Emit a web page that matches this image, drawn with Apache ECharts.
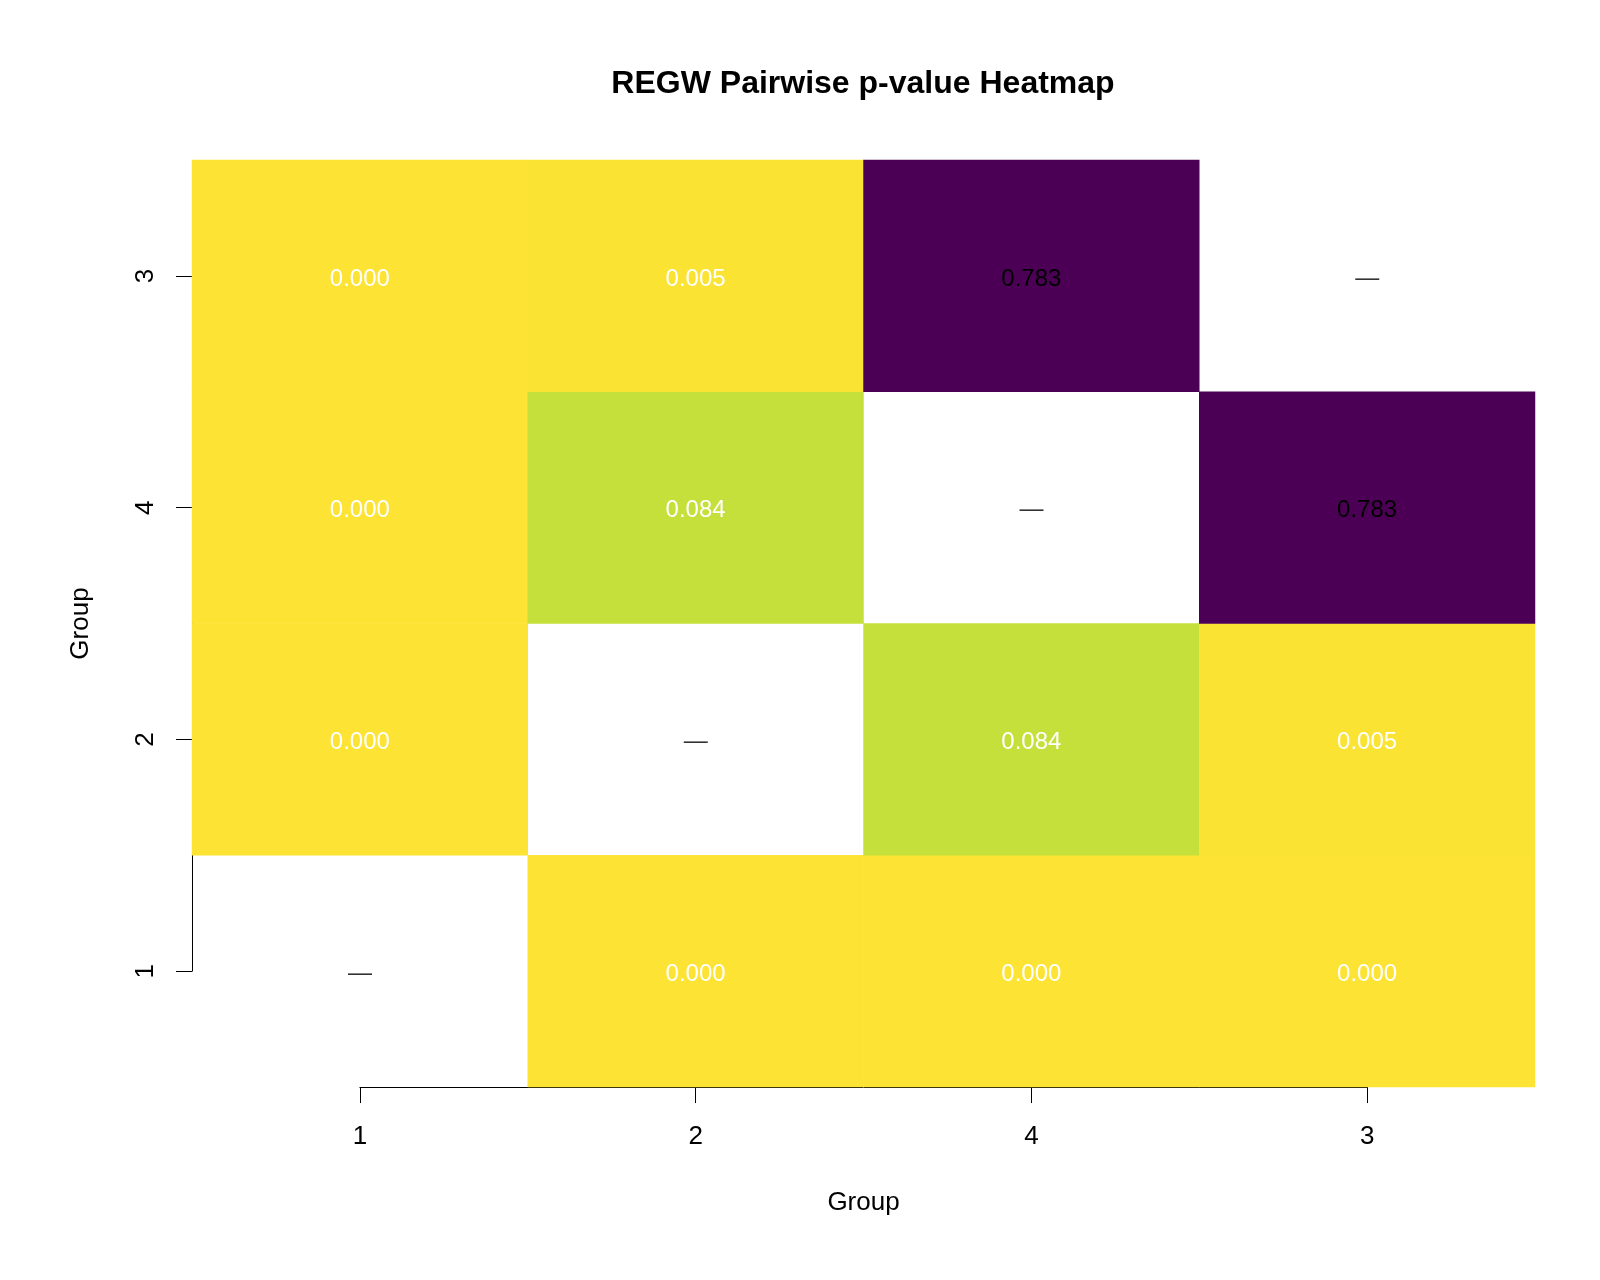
<!DOCTYPE html>
<html>
<head>
<meta charset="utf-8">
<script src="https://cdn.jsdelivr.net/npm/echarts@6/dist/echarts.min.js"></script>
<style>
  html, body { margin: 0; padding: 0; background: #fff; }
  #main { width: 1600px; height: 1280px; }
</style>
</head>
<body>
<div id="main"></div>
<script>
// group order as drawn on both axes (y: bottom to top)
const groups = ['1', '2', '4', '3'];

// p-values, one row per y group (bottom to top), columns follow groups; null = diagonal
const row1 = [null, 0.000, 0.000, 0.000];
const row2 = [0.000, null, 0.084, 0.005];
const row4 = [0.000, 0.084, null, 0.783];
const row3 = [0.000, 0.005, 0.783, null];
const rows = [row1, row2, row4, row3];

// hcl.colors(.., "viridis") reversed: small p = yellow
const palette = ['#FDE333', '#C3E03A', '#6CD05E', '#00BE7D', '#00A890',
                 '#008E98', '#007094', '#185086', '#422C70', '#4B0055'];

const font = 'Liberation Sans, Arial, sans-serif';

const cells = [];
const diag = [];
rows.forEach((r, yi) => {
  r.forEach((v, xi) => {
    if (v === null) {
      diag.push([xi, yi]);
    } else {
      cells.push({
        value: [xi, yi, v],
        label: { color: v > 0.5 ? '#000' : '#fff' }
      });
    }
  });
});

const chart = echarts.init(document.getElementById('main'));
chart.setOption({
  animation: false,
  backgroundColor: '#fff',
  title: {
    text: 'REGW Pairwise p-value Heatmap',
    left: 858,
    textAlign: 'center',
    top: 63,
    textStyle: { fontFamily: font, fontSize: 32, fontWeight: 'bold', color: '#000' }
  },
  grid: [
    { left: 192, top: 160, width: 1343, height: 927 },
    // tick-to-tick span, R style axis lines
    { left: 359.9, top: 275.9, width: 1007.25, height: 695.25 }
  ],
  xAxis: [
    { type: 'category', gridIndex: 0, data: groups, show: false },
    {
      type: 'category', gridIndex: 1, data: groups, boundaryGap: false,
      position: 'bottom', offset: 115.9,
      name: 'Group', nameLocation: 'middle', nameGap: 103,
      nameTextStyle: { fontFamily: font, fontSize: 26, color: '#000' },
      axisLine: { show: true, lineStyle: { color: '#000', width: 1 } },
      axisTick: { show: true, length: 16, lineStyle: { color: '#000' } },
      axisLabel: { fontFamily: font, fontSize: 26, color: '#000', margin: 37 },
      splitLine: { show: false }
    }
  ],
  yAxis: [
    { type: 'category', gridIndex: 0, data: groups, show: false },
    {
      type: 'category', gridIndex: 1, data: groups, boundaryGap: false,
      position: 'left', offset: 167.9,
      name: 'Group', nameLocation: 'middle', nameGap: 98,
      nameRotate: 90,
      nameTextStyle: { fontFamily: font, fontSize: 26, color: '#000' },
      axisLine: { show: true, lineStyle: { color: '#000', width: 1 } },
      axisTick: { show: true, length: 16, lineStyle: { color: '#000' } },
      axisLabel: { fontFamily: font, fontSize: 26, color: '#000', margin: 33, rotate: 90 },
      splitLine: { show: false }
    }
  ],
  visualMap: {
    show: false,
    type: 'continuous',
    seriesIndex: 0,
    dimension: 2,
    min: 0,
    max: 0.783,
    inRange: { color: palette }
  },
  series: [
    {
      type: 'heatmap',
      xAxisIndex: 0,
      yAxisIndex: 0,
      data: cells,
      label: {
        show: true,
        fontFamily: font,
        fontSize: 24,
        offset: [0, 3],
        formatter: p => p.value[2].toFixed(3)
      },
      emphasis: { disabled: true }
    },
    {
      type: 'scatter',
      xAxisIndex: 0,
      yAxisIndex: 0,
      data: diag,
      symbolSize: 0,
      label: {
        show: true,
        position: 'inside',
        fontFamily: font,
        fontSize: 24,
        offset: [0, 2],
        color: '#000',
        formatter: '\u2014'
      },
      emphasis: { disabled: true }
    }
  ]
});
</script>
</body>
</html>
